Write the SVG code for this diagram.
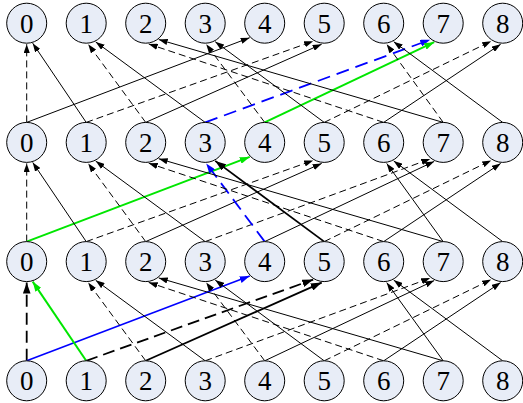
<svg xmlns="http://www.w3.org/2000/svg" width="523" height="403" viewBox="0 0 523 403">
<style>
.n circle{fill:#E8EDF7;stroke:#000;stroke-width:1}
.n text{font-family:"Liberation Serif","DejaVu Serif",serif;font-size:27px;text-anchor:middle;fill:#000}
line{fill:none;stroke-linecap:butt}
.s{stroke:#000;stroke-width:1;marker-end:url(#ak)}
.d{stroke:#000;stroke-width:1;stroke-dasharray:7 4;marker-end:url(#ak)}
.ts{stroke:#000;stroke-width:1.8;marker-end:url(#akt)}
.td{stroke:#000;stroke-width:1.8;stroke-dasharray:12 6;marker-end:url(#akt)}
.g{stroke:#00E600;stroke-width:2;marker-end:url(#ag)}
.b{stroke:#0000FF;stroke-width:1.6;marker-end:url(#ab)}
.bd{stroke:#0000FF;stroke-width:1.8;stroke-dasharray:13 7;marker-end:url(#ab)}
</style>
<defs>
<marker id="ak" viewBox="0 0 10 7" refX="10" refY="3.5" markerWidth="9" markerHeight="6.3" markerUnits="userSpaceOnUse" orient="auto"><path d="M0,0L10,3.5L0,7z" fill="#000"/></marker>
<marker id="akt" viewBox="0 0 10 7" refX="10" refY="3.5" markerWidth="11" markerHeight="7.7" markerUnits="userSpaceOnUse" orient="auto"><path d="M0,0L10,3.5L0,7z" fill="#000"/></marker>
<marker id="ag" viewBox="0 0 10 7" refX="10" refY="3.5" markerWidth="10" markerHeight="7" markerUnits="userSpaceOnUse" orient="auto"><path d="M0,0L10,3.5L0,7z" fill="#00E600"/></marker>
<marker id="ab" viewBox="0 0 10 7" refX="10" refY="3.5" markerWidth="10" markerHeight="7" markerUnits="userSpaceOnUse" orient="auto"><path d="M0,0L10,3.5L0,7z" fill="#0000FF"/></marker>
</defs>
<g id="connectors">
<!-- stage row1 -> row0 -->
<line class="d" x1="26.7" y1="122.4" x2="26.7" y2="44.2"/>
<line class="s" x1="26.7" y1="122.4" x2="249.7" y2="37.7"/>
<line class="s" x1="86.2" y1="122.4" x2="32.7" y2="43.2"/>
<line class="d" x1="86.2" y1="122.4" x2="313.2" y2="41.2"/>
<line class="d" x1="145.7" y1="122.4" x2="88.2" y2="44.2"/>
<line class="s" x1="145.7" y1="122.4" x2="321.7" y2="44.2"/>
<line class="s" x1="205.2" y1="122.4" x2="95.7" y2="41.9"/>
<line class="bd" x1="205.2" y1="122.4" x2="430.2" y2="39.7"/>
<line class="d" x1="264.7" y1="122.4" x2="206.2" y2="44.2"/>
<line class="g" x1="264.7" y1="122.4" x2="434.2" y2="42.2"/>
<line class="s" x1="324.2" y1="122.4" x2="215.2" y2="41.7"/>
<line class="d" x1="324.2" y1="122.4" x2="491.2" y2="41.2"/>
<line class="d" x1="383.7" y1="122.4" x2="148.7" y2="44.0"/>
<line class="s" x1="383.7" y1="122.4" x2="500.7" y2="44.2"/>
<line class="s" x1="443.2" y1="122.4" x2="158.7" y2="39.5"/>
<line class="d" x1="443.2" y1="122.4" x2="386.7" y2="44.2"/>
<line class="s" x1="502.7" y1="122.4" x2="393.7" y2="41.7"/>
<!-- stage row2 -> row1 -->
<line class="d" x1="26.7" y1="241.6" x2="26.7" y2="163.4"/>
<line class="g" x1="26.7" y1="241.6" x2="249.7" y2="156.9"/>
<line class="s" x1="86.2" y1="241.6" x2="32.7" y2="162.4"/>
<line class="d" x1="86.2" y1="241.6" x2="313.2" y2="160.4"/>
<line class="d" x1="145.7" y1="241.6" x2="88.2" y2="163.4"/>
<line class="s" x1="145.7" y1="241.6" x2="321.7" y2="163.4"/>
<line class="s" x1="205.2" y1="241.6" x2="95.7" y2="161.1"/>
<line class="d" x1="205.2" y1="241.6" x2="430.2" y2="158.9"/>
<line class="bd" x1="264.7" y1="241.6" x2="206.2" y2="163.4"/>
<line class="s" x1="264.7" y1="241.6" x2="434.2" y2="161.4"/>
<line class="ts" x1="324.2" y1="241.6" x2="215.2" y2="160.9"/>
<line class="d" x1="324.2" y1="241.6" x2="491.2" y2="160.4"/>
<line class="d" x1="383.7" y1="241.6" x2="148.7" y2="163.2"/>
<line class="s" x1="383.7" y1="241.6" x2="500.7" y2="163.4"/>
<line class="s" x1="443.2" y1="241.6" x2="158.7" y2="158.7"/>
<line class="s" x1="443.2" y1="241.6" x2="386.7" y2="163.4"/>
<line class="s" x1="502.7" y1="241.6" x2="393.7" y2="160.9"/>
<!-- stage row3 -> row2 -->
<line class="td" x1="26.7" y1="360.8" x2="26.7" y2="282.6"/>
<line class="b" x1="26.7" y1="360.8" x2="249.7" y2="276.1"/>
<line class="g" x1="86.2" y1="360.8" x2="32.7" y2="281.6"/>
<line class="td" x1="86.2" y1="360.8" x2="313.2" y2="279.6"/>
<line class="d" x1="145.7" y1="360.8" x2="88.2" y2="282.6"/>
<line class="ts" x1="145.7" y1="360.8" x2="321.7" y2="282.6"/>
<line class="s" x1="205.2" y1="360.8" x2="95.7" y2="280.3"/>
<line class="d" x1="205.2" y1="360.8" x2="430.2" y2="278.1"/>
<line class="d" x1="264.7" y1="360.8" x2="206.2" y2="282.6"/>
<line class="s" x1="264.7" y1="360.8" x2="434.2" y2="280.6"/>
<line class="s" x1="324.2" y1="360.8" x2="215.2" y2="280.1"/>
<line class="d" x1="324.2" y1="360.8" x2="491.2" y2="279.6"/>
<line class="d" x1="383.7" y1="360.8" x2="148.7" y2="282.4"/>
<line class="s" x1="383.7" y1="360.8" x2="500.7" y2="282.6"/>
<line class="s" x1="443.2" y1="360.8" x2="158.7" y2="277.9"/>
<line class="s" x1="443.2" y1="360.8" x2="386.7" y2="282.6"/>
<line class="s" x1="502.7" y1="360.8" x2="393.7" y2="280.1"/>
</g>
<g id="row0">
<g id="r0n0" class="n"><circle cx="26.7" cy="23.2" r="20"/><text x="26.7" y="32.6">0</text></g>
<g id="r0n1" class="n"><circle cx="86.2" cy="23.2" r="20"/><text x="86.2" y="32.6">1</text></g>
<g id="r0n2" class="n"><circle cx="145.7" cy="23.2" r="20"/><text x="145.7" y="32.6">2</text></g>
<g id="r0n3" class="n"><circle cx="205.2" cy="23.2" r="20"/><text x="205.2" y="32.6">3</text></g>
<g id="r0n4" class="n"><circle cx="264.7" cy="23.2" r="20"/><text x="264.7" y="32.6">4</text></g>
<g id="r0n5" class="n"><circle cx="324.2" cy="23.2" r="20"/><text x="324.2" y="32.6">5</text></g>
<g id="r0n6" class="n"><circle cx="383.7" cy="23.2" r="20"/><text x="383.7" y="32.6">6</text></g>
<g id="r0n7" class="n"><circle cx="443.2" cy="23.2" r="20"/><text x="443.2" y="32.6">7</text></g>
<g id="r0n8" class="n"><circle cx="502.7" cy="23.2" r="20"/><text x="502.7" y="32.6">8</text></g>
</g>
<g id="row1">
<g id="r1n0" class="n"><circle cx="26.7" cy="142.4" r="20"/><text x="26.7" y="151.8">0</text></g>
<g id="r1n1" class="n"><circle cx="86.2" cy="142.4" r="20"/><text x="86.2" y="151.8">1</text></g>
<g id="r1n2" class="n"><circle cx="145.7" cy="142.4" r="20"/><text x="145.7" y="151.8">2</text></g>
<g id="r1n3" class="n"><circle cx="205.2" cy="142.4" r="20"/><text x="205.2" y="151.8">3</text></g>
<g id="r1n4" class="n"><circle cx="264.7" cy="142.4" r="20"/><text x="264.7" y="151.8">4</text></g>
<g id="r1n5" class="n"><circle cx="324.2" cy="142.4" r="20"/><text x="324.2" y="151.8">5</text></g>
<g id="r1n6" class="n"><circle cx="383.7" cy="142.4" r="20"/><text x="383.7" y="151.8">6</text></g>
<g id="r1n7" class="n"><circle cx="443.2" cy="142.4" r="20"/><text x="443.2" y="151.8">7</text></g>
<g id="r1n8" class="n"><circle cx="502.7" cy="142.4" r="20"/><text x="502.7" y="151.8">8</text></g>
</g>
<g id="row2">
<g id="r2n0" class="n"><circle cx="26.7" cy="261.6" r="20"/><text x="26.7" y="271">0</text></g>
<g id="r2n1" class="n"><circle cx="86.2" cy="261.6" r="20"/><text x="86.2" y="271">1</text></g>
<g id="r2n2" class="n"><circle cx="145.7" cy="261.6" r="20"/><text x="145.7" y="271">2</text></g>
<g id="r2n3" class="n"><circle cx="205.2" cy="261.6" r="20"/><text x="205.2" y="271">3</text></g>
<g id="r2n4" class="n"><circle cx="264.7" cy="261.6" r="20"/><text x="264.7" y="271">4</text></g>
<g id="r2n5" class="n"><circle cx="324.2" cy="261.6" r="20"/><text x="324.2" y="271">5</text></g>
<g id="r2n6" class="n"><circle cx="383.7" cy="261.6" r="20"/><text x="383.7" y="271">6</text></g>
<g id="r2n7" class="n"><circle cx="443.2" cy="261.6" r="20"/><text x="443.2" y="271">7</text></g>
<g id="r2n8" class="n"><circle cx="502.7" cy="261.6" r="20"/><text x="502.7" y="271">8</text></g>
</g>
<g id="row3">
<g id="r3n0" class="n"><circle cx="26.7" cy="380.8" r="20"/><text x="26.7" y="390.2">0</text></g>
<g id="r3n1" class="n"><circle cx="86.2" cy="380.8" r="20"/><text x="86.2" y="390.2">1</text></g>
<g id="r3n2" class="n"><circle cx="145.7" cy="380.8" r="20"/><text x="145.7" y="390.2">2</text></g>
<g id="r3n3" class="n"><circle cx="205.2" cy="380.8" r="20"/><text x="205.2" y="390.2">3</text></g>
<g id="r3n4" class="n"><circle cx="264.7" cy="380.8" r="20"/><text x="264.7" y="390.2">4</text></g>
<g id="r3n5" class="n"><circle cx="324.2" cy="380.8" r="20"/><text x="324.2" y="390.2">5</text></g>
<g id="r3n6" class="n"><circle cx="383.7" cy="380.8" r="20"/><text x="383.7" y="390.2">6</text></g>
<g id="r3n7" class="n"><circle cx="443.2" cy="380.8" r="20"/><text x="443.2" y="390.2">7</text></g>
<g id="r3n8" class="n"><circle cx="502.7" cy="380.8" r="20"/><text x="502.7" y="390.2">8</text></g>
</g>
</svg>
